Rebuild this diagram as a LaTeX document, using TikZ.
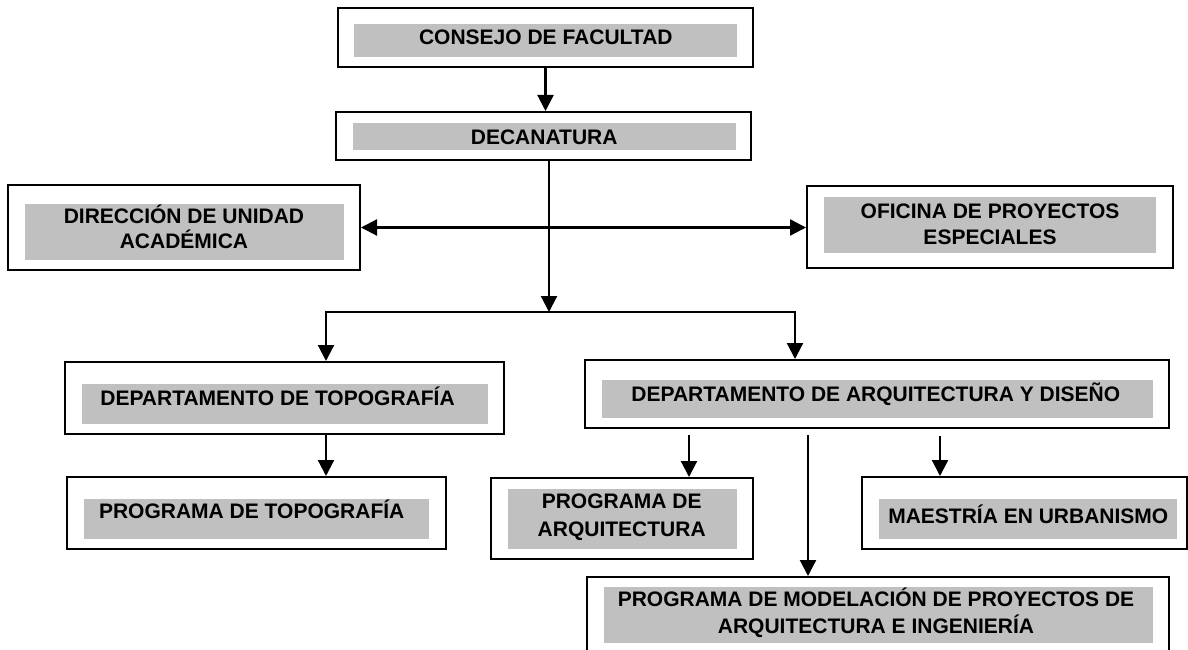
\documentclass[tikz,border=0pt]{standalone}
\usepackage{fontspec}
\setmainfont{Liberation Sans}
\usetikzlibrary{arrows.meta}
\definecolor{boxgray}{RGB}{192,192,192}
\begin{document}
\begin{tikzpicture}[x=1pt,y=-1pt,
  obox/.style 2 args={draw=black, line width=2pt, fill=white, inner sep=0pt, minimum width=#1, minimum height=#2},
  gbox/.style 2 args={fill=boxgray, inner sep=0pt, minimum width=#1, minimum height=#2},
  lbl/.style={font=\fontsize{21}{26}\selectfont\bfseries, inner sep=0pt, text height=15pt, text depth=0pt},
  mlbl/.style={font=\fontsize{21}{#1}\selectfont\bfseries, inner sep=0pt, align=center},
  arr/.style={-{Triangle[length=16pt,width=16pt]}, line width=2.2pt},
  arrtwo/.style={{Triangle[length=16pt,width=16pt]}-{Triangle[length=16pt,width=16pt]}, line width=2.2pt},
  bracketline/.style={line width=1.8pt, line cap=rect}]
\useasboundingbox (0,0) rectangle (1188,650);
\clip (0,0) rectangle (1188,650);
\fill[white] (0,0) rectangle (1188,650);

% outer boxes
\node[obox={415pt}{59pt}] (cons) at (545.5,37.5) {};
\node[obox={415pt}{48pt}] (dec) at (543.5,136) {};
\node[obox={352pt}{85pt}] (dir) at (184,227.5) {};
\node[obox={366pt}{82pt}] (ofi) at (990,227) {};
\node[obox={439pt}{72pt}] (dtop) at (284.5,398) {};
\node[obox={379pt}{72pt}] (ptop) at (256.5,513) {};
\node[obox={584pt}{68pt}] (darq) at (877,394) {};
\node[obox={262pt}{81pt}] (parq) at (622,518.5) {};
\node[obox={325pt}{72pt}] (maes) at (1024.5,513) {};
\node[obox={582pt}{88pt}] (mod) at (878,621) {};

% gray panels
\node[gbox={383pt}{33pt}] (consg) at (545.5,40.5) {};
\node[gbox={383pt}{27pt}] (decg) at (544.5,136.5) {};
\node[gbox={319pt}{56pt}] (dirg) at (184.5,232) {};
\node[gbox={332pt}{56pt}] (ofig) at (990,225) {};
\node[gbox={406pt}{40pt}] (dtopg) at (285,404) {};
\node[gbox={345pt}{40pt}] (ptopg) at (256.5,519) {};
\node[gbox={551pt}{38pt}] (darqg) at (877.5,399) {};
\node[gbox={229pt}{60pt}] (parqg) at (622.5,519) {};
\node[gbox={298pt}{40pt}] (maesg) at (1028,519) {};
\node[gbox={549pt}{56pt}] (modg) at (878.5,615) {};

% texts
\node[lbl] (const) at (545.8,37.5) {CONSEJO DE FACULTAD};
\node[lbl] (dect) at (544.2,137) {DECANATURA};
\node[mlbl=25pt] (dirt) at (184,226.3) {DIRECCIÓN DE UNIDAD\\ACADÉMICA};
\node[mlbl=26pt] (ofit) at (990,223.8) {OFICINA DE PROYECTOS\\ESPECIALES};
\node[lbl] (dtopt) at (277.5,397.5) {DEPARTAMENTO DE TOPOGRAFÍA};
\node[lbl] (ptopt) at (251.7,511) {PROGRAMA DE TOPOGRAFÍA};
\node[lbl] (darqt) at (875.8,394) {DEPARTAMENTO DE ARQUITECTURA Y DISEÑO};
\node[mlbl=28pt] (parqt) at (621.7,517.4) {PROGRAMA DE\\ARQUITECTURA};
\node[lbl] (maest) at (1028.3,515.5) {MAESTRÍA EN URBANISMO};
\node[mlbl=27pt] (modt) at (876,612.9) {PROGRAMA DE MODELACIÓN DE PROYECTOS DE\\ARQUITECTURA E INGENIERÍA};

% junction coordinates
\coordinate (jn) at (549,312);
\coordinate (bl) at (326,312);
\coordinate (br) at (795,312);
\coordinate (sa) at ([xshift=-188pt]darq.south);
\coordinate (sb) at ([xshift=-69pt]darq.south);
\coordinate (sc) at ([xshift=63pt]darq.south);

% connectors
\draw[arr] (cons.south) -- (cons.south |- dec.north);
\draw[arr] (dec.south -| jn) -- (jn);
\draw[arrtwo] (dir.east) -- (dir.east -| ofi.west);
\draw[bracketline] (bl) -- (br);
\draw[arr] (bl) -- (bl |- dtop.north);
\draw[arr] (br) -- (br |- darq.north);
\draw[arr] (dtop.south -| bl) -- (bl |- ptop.north);
\draw[arr, shorten <=6pt] (sa) -- (sa |- parq.north);
\draw[arr, shorten <=6pt] (sb) -- (sb |- mod.north);
\draw[arr, shorten <=7pt] (sc) -- (sc |- maes.north);
\end{tikzpicture}
\end{document}
